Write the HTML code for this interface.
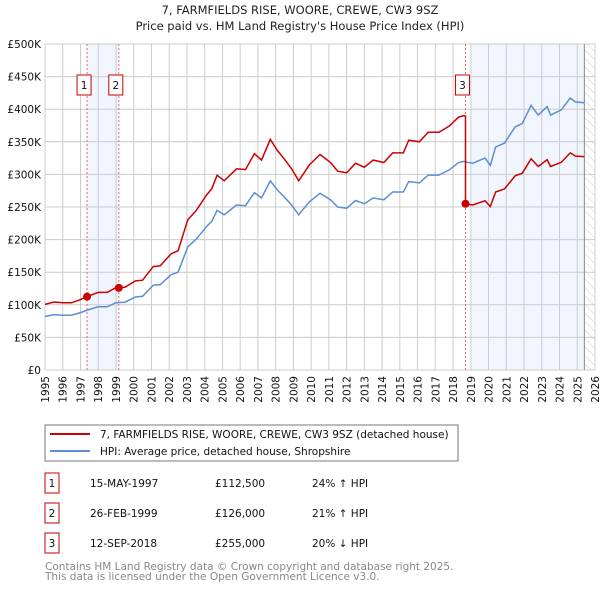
<!DOCTYPE html>
<html><head><meta charset="utf-8"><style>
body{margin:0;background:#fff;font-family:"DejaVu Sans","Liberation Sans",sans-serif;}
svg text{font-family:"DejaVu Sans","Liberation Sans",sans-serif;}
</style></head><body>
<svg id="c" width="600" height="590" xmlns="http://www.w3.org/2000/svg">
<defs><pattern id="hatch" width="6" height="6" patternUnits="userSpaceOnUse" patternTransform="rotate(-45)"><line x1="0" y1="0" x2="0" y2="6" stroke="#ccc" stroke-width="1"/></pattern></defs>
<text x="300" y="14" text-anchor="middle" font-size="11.5" fill="#222">7, FARMFIELDS RISE, WOORE, CREWE, CW3 9SZ</text>
<text x="300" y="30" text-anchor="middle" font-size="11.5" fill="#222">Price paid vs. HM Land Registry's House Price Index (HPI)</text>
<g id="plot"></g>
<rect x="45" y="425" width="413" height="36" fill="#fff" stroke="#777"/>
<line x1="50" y1="434" x2="90" y2="434" stroke="#cc0000" stroke-width="2"/>
<text x="100" y="438" font-size="10.5" fill="#111">7, FARMFIELDS RISE, WOORE, CREWE, CW3 9SZ (detached house)</text>
<line x1="50" y1="451" x2="90" y2="451" stroke="#5b8fd4" stroke-width="2"/>
<text x="100" y="455" font-size="10.5" fill="#111">HPI: Average price, detached house, Shropshire</text>
<g id="table" font-size="10.5" fill="#111"></g>
<text x="45" y="570" font-size="10.5" fill="#888">Contains HM Land Registry data © Crown copyright and database right 2025.</text>
<text x="45" y="580" font-size="10.5" fill="#888">This data is licensed under the Open Government Licence v3.0.</text>
</svg>
<script>
const hpiDates=[1995.0,1995.5,1996,1996.5,1997,1997.4,1998,1998.5,1999,1999.5,2000.1,2000.5,2001.1,2001.5,2002.1,2002.5,2003.05,2003.5,2004.1,2004.4,2004.7,2005.1,2005.8,2006.3,2006.8,2007.2,2007.7,2008.1,2008.5,2008.9,2009.3,2009.9,2010.5,2011.1,2011.5,2012.0,2012.5,2013.0,2013.5,2014.1,2014.6,2015.2,2015.5,2016.1,2016.6,2017.2,2017.8,2018.3,2018.6,2019.1,2019.8,2020.1,2020.4,2020.9,2021.5,2021.9,2022.4,2022.8,2023.3,2023.5,2024.1,2024.6,2024.9,2025.4];
const hpiValues=[82,85,84,84,88,92,97,97,103,104,112,113,130,131,146,150,189,200,220,228,245,238,253,252,272,264,290,276,265,253,238,258,271,261,250,248,260,255,264,261,273,273,289,287,299,299,307,318,320,317,325,314,342,348,373,378,406,391,404,391,399,417,411,410];
const saleDates=[1997.37,1999.16,2018.7];
const salePrices=[112.5,126,255];
const saleLabels=["1","2","3"];
const saleDateText=["15-MAY-1997","26-FEB-1999","12-SEP-2018"];
const salePriceText=["£112,500","£126,000","£255,000"];
const saleHpiText=["24% ↑ HPI","21% ↑ HPI","20% ↓ HPI"];
const yTicks=[0,50,100,150,200,250,300,350,400,450,500];
const yTickLabels=["£0","£50K","£100K","£150K","£200K","£250K","£300K","£350K","£400K","£450K","£500K"];
const x0=45,x1=595,y0=370,y1=44;
const X=t=>x0+(t-1995)/31*(x1-x0);
const Y=v=>y0-v/500*(y0-y1);
const NS="http://www.w3.org/2000/svg";
const plot=document.getElementById('plot');
function mk(tag,attrs,parent){const e=document.createElementNS(NS,tag);for(const k in attrs)e.setAttribute(k,attrs[k]);(parent||plot).appendChild(e);return e;}
function hpiAt(t){for(let i=0;i<hpiDates.length-1;i++){if(t<=hpiDates[i+1]){const f=(t-hpiDates[i])/(hpiDates[i+1]-hpiDates[i]);return hpiValues[i]+f*(hpiValues[i+1]-hpiValues[i]);}}return hpiValues[hpiValues.length-1];}
let b=mk('rect',{x:X(saleDates[0]),y:y1,width:X(saleDates[1])-X(saleDates[0]),height:y0-y1,fill:'#eef3fc',opacity:0.8});

b=mk('rect',{x:X(2019.0),y:y1,width:X(2025.4)-X(2019.0),height:y0-y1,fill:'#eef3fc',opacity:0.8});

b=mk('rect',{x:X(2025.4),y:y1,width:x1-X(2025.4),height:y0-y1,fill:'url(#hatch)'});

for(let yr=1995;yr<=2026;yr++){const l=mk('line',{x1:X(yr),x2:X(yr),y1:y1,y2:y0,stroke:'#ccc','stroke-width':1});

const t=mk('text',{x:0,y:0,'font-size':10.5,fill:'#111','text-anchor':'end',transform:`translate(${X(yr)+4},${y0+6}) rotate(-90)`});t.textContent=yr;
}
yTicks.forEach((v,i)=>{const l=mk('line',{x1:x0,x2:x1,y1:Y(v),y2:Y(v),stroke:'#ccc','stroke-width':1});

const t=mk('text',{x:x0-4,y:Y(v)+4,'font-size':10.5,fill:'#111','text-anchor':'end'});t.textContent=yTickLabels[i];
});
mk('line',{x1:X(2025.4),x2:X(2025.4),y1:y1,y2:y0,stroke:'#888','stroke-width':1});
saleDates.forEach((d,i)=>{const l=mk('line',{x1:X(d),x2:X(d),y1:y1,y2:y0,stroke:'#e66','stroke-width':1,'stroke-dasharray':'2,2'});
});
const hp=hpiDates.map((d,i)=>`${X(d).toFixed(1)},${Y(hpiValues[i]).toFixed(1)}`).join(' ');
const hl=mk('polyline',{points:hp,fill:'none',stroke:'#5b8fd4','stroke-width':1.5});

const pts=[];
const r0=salePrices[0]/hpiAt(saleDates[0]);
hpiDates.forEach((d,i)=>{let k=-1;for(let j=0;j<saleDates.length;j++)if(d>=saleDates[j])k=j;
const r=k<0?r0:salePrices[k]/hpiAt(saleDates[k]);
if(k>=0&&i>0&&hpiDates[i-1]<saleDates[k]){const pr=k===0?r0:salePrices[k-1]/hpiAt(saleDates[k-1]);pts.push([saleDates[k],hpiAt(saleDates[k])*pr]);pts.push([saleDates[k],salePrices[k]]);}
pts.push([d,hpiValues[i]*r]);});
const pl=mk('polyline',{points:pts.map(p=>`${X(p[0]).toFixed(1)},${Y(p[1]).toFixed(1)}`).join(' '),fill:'none',stroke:'#cc0000','stroke-width':1.5});

saleDates.forEach((d,i)=>{const c=mk('circle',{cx:X(d),cy:Y(salePrices[i]),r:4,fill:'#cc0000'});

const bx=mk('rect',{x:X(d)-10,y:75,width:14,height:20,fill:'#fff',stroke:'#cc0000'});

const t=mk('text',{x:X(d)-3,y:89,'font-size':10.5,fill:'#111','text-anchor':'middle'});t.textContent=saleLabels[i];
});
const tb=document.getElementById('table');
const rowY=[483,513,543];
saleLabels.forEach((s,i)=>{const y=rowY[i];
const r=mk('rect',{x:45,y:y-10,width:14,height:20,fill:'#fff',stroke:'#cc0000'},tb);

const cols=[[52,s,'middle'],[90,saleDateText[i],'start'],[215,salePriceText[i],'start'],[312,saleHpiText[i],'start']];
cols.forEach(c=>{const t=mk('text',{x:c[0],y:y+4,'text-anchor':c[2]},tb);t.textContent=c[1];
});});
</script>
</body></html>
